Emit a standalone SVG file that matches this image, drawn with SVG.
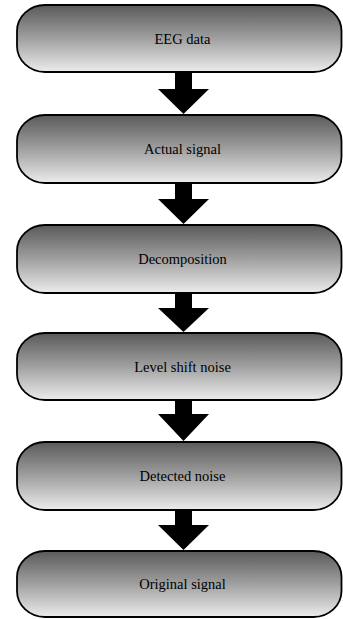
<svg xmlns="http://www.w3.org/2000/svg" width="343" height="619" viewBox="0 0 343 619">
<defs>
<linearGradient id="g" x1="0" y1="0" x2="0" y2="1">
<stop offset="0" stop-color="#5a5a5a"/>
<stop offset="0.5" stop-color="#a0a0a0"/>
<stop offset="1" stop-color="#ececec"/>
</linearGradient>
</defs>
<style>
.box{fill:url(#g);stroke:#000;stroke-width:1.8}
.lbl{font-family:"Liberation Serif","Times New Roman",serif;font-size:14.5px;fill:#000;text-anchor:middle}
.arr{fill:#000;stroke:none}
</style>
<rect width="343" height="619" fill="#fff"/>
<g id="n1"><rect class="box" x="17" y="5" width="324.5" height="67" rx="28" ry="26"/><text class="lbl" x="182.5" y="44">EEG data</text></g>
<g id="n2"><rect class="box" x="17" y="115" width="324.5" height="68" rx="28" ry="26"/><text class="lbl" x="182.5" y="154">Actual signal</text></g>
<g id="n3"><rect class="box" x="17" y="225" width="324.5" height="68" rx="28" ry="26"/><text class="lbl" x="182.5" y="264">Decomposition</text></g>
<g id="n4"><rect class="box" x="17" y="333" width="324.5" height="67" rx="28" ry="26"/><text class="lbl" x="182.5" y="372">Level shift noise</text></g>
<g id="n5"><rect class="box" x="17" y="442" width="324.5" height="68" rx="28" ry="26"/><text class="lbl" x="182.5" y="481">Detected noise</text></g>
<g id="n6"><rect class="box" x="17" y="551" width="324.5" height="66" rx="28" ry="26"/><text class="lbl" x="182.5" y="589">Original signal</text></g>
<g id="connectors">
<polygon class="arr" points="175,72 192,72 192,89 209,89 183.5,114 158,89 175,89"/>
<polygon class="arr" points="175,183 192,183 192,199 209,199 183.5,224 158,199 175,199"/>
<polygon class="arr" points="175,293 192,293 192,308 209,308 183.5,332 158,308 175,308"/>
<polygon class="arr" points="175,400 192,400 192,414 209,414 183.5,441 158,414 175,414"/>
<polygon class="arr" points="175,510 192,510 192,525 209,525 183.5,550 158,525 175,525"/>
</g>
</svg>
